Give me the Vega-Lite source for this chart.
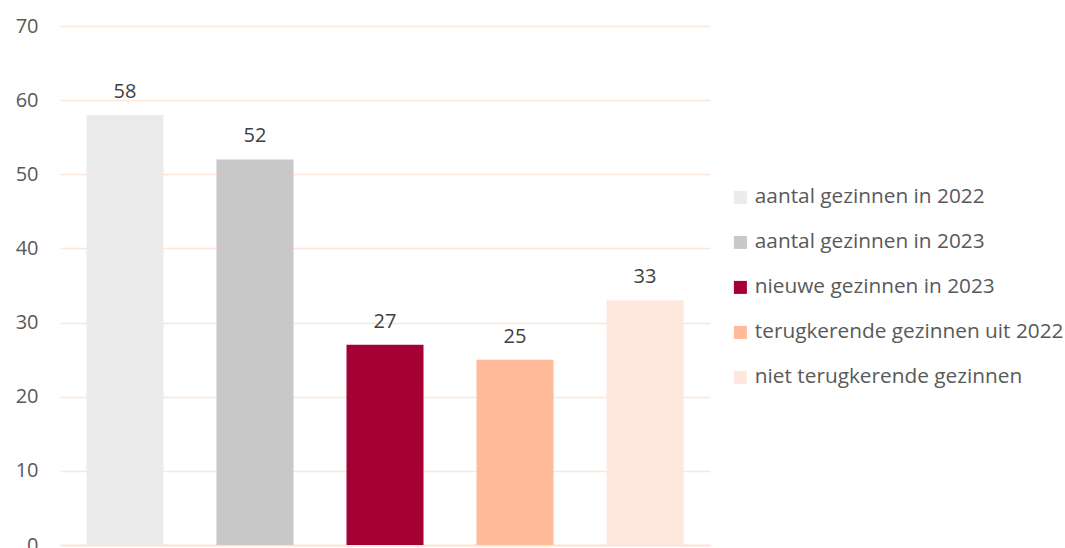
{
  "$schema": "https://vega.github.io/schema/vega-lite/v6.json",
  "width": 650,
  "height": 519,
  "autosize": {"type": "none"},
  "padding": {"left": 60, "top": 26, "right": 355, "bottom": 3},
  "background": "white",
  "config": {
    "view": {"stroke": null},
    "font": "Open Sans"
  },
  "data": {
    "values": [
      {"cat": "aantal gezinnen in 2022", "value": 58},
      {"cat": "aantal gezinnen in 2023", "value": 52},
      {"cat": "nieuwe gezinnen in 2023", "value": 27},
      {"cat": "terugkerende gezinnen uit 2022", "value": 25},
      {"cat": "niet terugkerende gezinnen", "value": 33}
    ]
  },
  "encoding": {
    "x": {
      "field": "cat",
      "type": "nominal",
      "sort": null,
      "scale": {"paddingInner": 0.4077, "paddingOuter": 0.2038},
      "axis": {"labels": false, "ticks": false, "title": null, "domainColor": "#FCE4D6", "domainWidth": 2}
    },
    "y": {
      "field": "value",
      "type": "quantitative",
      "scale": {"domain": [0, 70]},
      "axis": {
        "values": [0, 10, 20, 30, 40, 50, 60, 70],
        "title": null,
        "domain": false,
        "ticks": false,
        "gridColor": "#FDE5DA",
        "gridWidth": 1.5,
        "labelFontSize": 20,
        "labelColor": "#595959",
        "labelPadding": 22,
        "labelFont": "Open Sans"
      }
    }
  },
  "layer": [
    {
      "mark": {"type": "bar"},
      "encoding": {
        "color": {
          "field": "cat",
          "type": "nominal",
          "sort": null,
          "scale": {
            "domain": ["aantal gezinnen in 2022", "aantal gezinnen in 2023", "nieuwe gezinnen in 2023", "terugkerende gezinnen uit 2022", "niet terugkerende gezinnen"],
            "range": ["#EBEBEB", "#C8C8C8", "#A50034", "#FFBA9A", "#FEE8DE"]
          },
          "legend": {
            "title": null,
            "orient": "none",
            "legendX": 670,
            "legendY": 161,
            "symbolType": "square",
            "symbolSize": 169,
            "symbolStrokeWidth": 0,
            "labelFontSize": 20.8,
            "labelColor": "#595959",
            "labelFont": "Open Sans",
            "labelOffset": 4,
            "rowPadding": 23,
            "labelLimit": 400
          }
        }
      }
    },
    {
      "mark": {"type": "text", "baseline": "bottom", "dy": -13, "fontSize": 20, "color": "#404040", "font": "Open Sans"},
      "encoding": {"text": {"field": "value", "type": "quantitative"}}
    }
  ]
}
